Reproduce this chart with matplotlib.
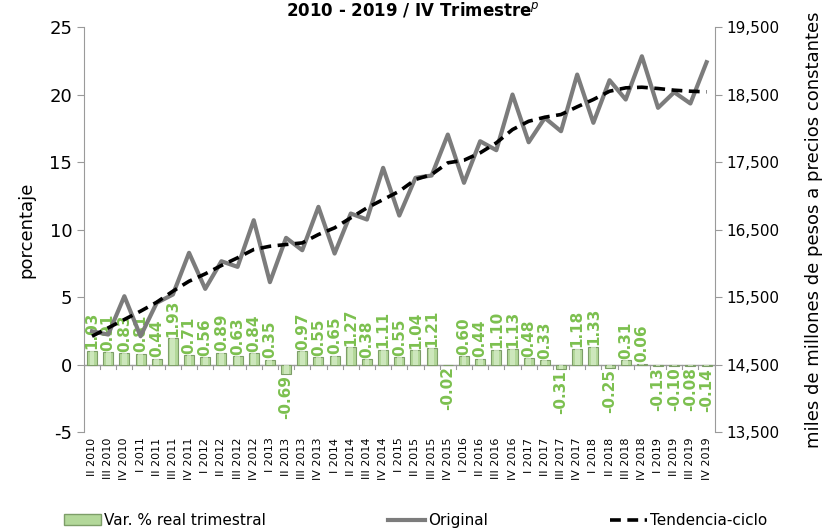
import numpy as np
import matplotlib
matplotlib.use('Agg')
import matplotlib.pyplot as plt
from matplotlib.patches import Patch
from matplotlib.lines import Line2D
from matplotlib.ticker import FuncFormatter

plt.rcParams['axes.unicode_minus'] = False

quarters = ['II', 'III', 'IV'] + ['I', 'II', 'III', 'IV'] * 9
years = [2010] * 3 + [y for y in range(2011, 2020) for _ in range(4)]
labels = [f'{q} {y}' for q, y in zip(quarters, years)]

var_trim = [1.03, 0.91, 0.83, 0.81, 0.44, 1.93, 0.71, 0.56, 0.89, 0.63,
            0.84, 0.35, -0.69, 0.97, 0.55, 0.65, 1.27, 0.38, 1.11, 0.55,
            1.04, 1.21, -0.02, 0.60, 0.44, 1.10, 1.13, 0.48, 0.33, -0.31,
            1.18, 1.33, -0.25, 0.31, 0.06, -0.13, -0.10, -0.08, -0.14]

original = [14993, 14944, 15512, 14919, 15414, 15537, 16155, 15621, 16030, 15947,
            16638, 15720, 16377, 16193, 16836, 16144, 16737, 16648, 17414, 16707,
            17266, 17300, 17907, 17192, 17808, 17675, 18500, 17793, 18154, 17956,
            18796, 18081, 18712, 18426, 19067, 18303, 18534, 18367, 18979]

tendencia = [14919, 15043, 15167, 15290, 15423, 15586, 15734, 15843, 15967, 16081,
             16204, 16252, 16278, 16302, 16426, 16525, 16673, 16821, 16944, 17067,
             17241, 17315, 17488, 17527, 17636, 17784, 17981, 18104, 18164, 18204,
             18318, 18426, 18549, 18599, 18608, 18589, 18564, 18549, 18540]

GREEN_TXT = '#7cc04f'
BAR_FACE = '#b3d89a'
BAR_EDGE = '#7d9e68'
GRAY = '#7c7c7c'
AXIS = '#9a9a9a'

fig = plt.figure(figsize=(8.31, 5.31), dpi=100)
ax = fig.add_axes([0.101, 0.1864, 0.759, 0.7627])
ax2 = ax.twinx()

x = np.arange(len(labels))

# bars on left axis
ax.bar(x, var_trim, width=0.62, color=BAR_FACE, edgecolor=BAR_EDGE, linewidth=0.8, zorder=2)
ax.bar(x, var_trim, width=0.3, color='#d9eecb', linewidth=0, zorder=2.1, alpha=0.7)
for xi, v in zip(x, var_trim):
    if v >= 0:
        ax.text(xi, v + 0.1, f'{v:.2f}', rotation=90, ha='center', va='bottom',
                color=GREEN_TXT, fontsize=11, fontweight='bold', zorder=4)
    else:
        ax.text(xi, v - 0.1, f'{v:.2f}', rotation=90, ha='center', va='top',
                color=GREEN_TXT, fontsize=11, fontweight='bold', zorder=4)

# category axis line at zero
ax.axhline(0, color=AXIS, linewidth=1, zorder=1)
for b in np.arange(-0.5, len(labels), 1):
    ax.plot([b, b], [0, -0.3], color=AXIS, linewidth=0.8, zorder=1)

ax.set_xlim(-0.5, len(labels) - 0.5)
ax.set_ylim(-5, 25)
ax.set_yticks(range(-5, 26, 5))
ax.set_xticks(x)
ax.set_xticklabels(labels, rotation=90, fontsize=8)
ax.tick_params(axis='x', length=0, pad=4)
ax.tick_params(axis='y', labelsize=13, color=AXIS, length=5)
ax.set_ylabel('porcentaje', fontsize=13, labelpad=10)

# lines on right axis
ax2.plot(x, original, color=GRAY, linewidth=3, zorder=3)
ax2.plot(x, tendencia, color='black', linewidth=2.6, linestyle=(0, (3, 1.8)), zorder=3)
ax2.set_ylim(13500, 19500)
ax2.set_yticks(range(13500, 19501, 1000))
ax2.yaxis.set_major_formatter(FuncFormatter(lambda v, p: f'{int(v):,}'))
ax2.tick_params(axis='y', labelsize=11, color=AXIS, length=5)
ax2.set_ylabel('miles de millones de pesos a precios constantes', fontsize=13, labelpad=18)

for a in (ax, ax2):
    for s in ('top', 'bottom'):
        a.spines[s].set_visible(False)
    a.spines['left'].set_color(AXIS)
    a.spines['right'].set_color(AXIS)
ax.spines['right'].set_visible(False)
ax2.spines['left'].set_visible(False)

fig.text(0.497, 0.999, '2010 - 2019 / IV Trimestre$^{p}$', ha='center', va='top',
         fontsize=12, fontweight='bold')

handles = [Patch(facecolor=BAR_FACE, edgecolor=BAR_EDGE),
           Line2D([], [], color=GRAY, linewidth=3),
           Line2D([], [], color='black', linewidth=2.6, linestyle=(0, (3, 1.8)))]
fig.legend(handles, ['Var. % real trimestral', 'Original', 'Tendencia-ciclo'],
           loc='lower center', bbox_to_anchor=(0.5, -0.02), ncol=3, frameon=False,
           fontsize=11, columnspacing=8, handlelength=2.4, handletextpad=0.2)

fig.savefig('out.png', dpi=100)
